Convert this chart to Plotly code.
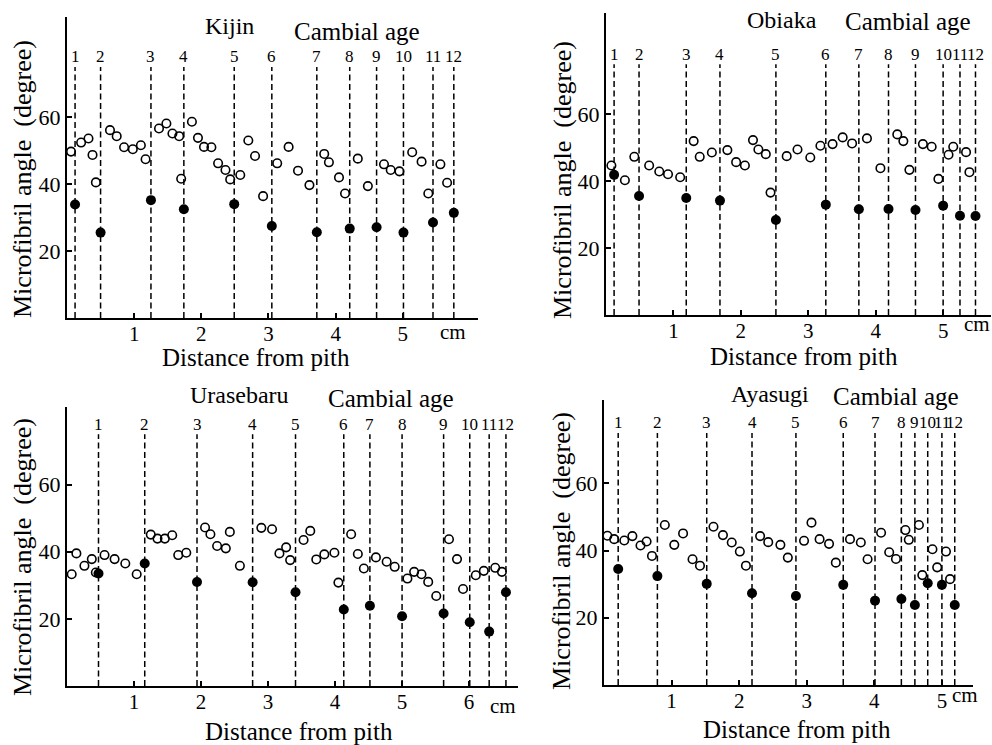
import plotly.graph_objects as go

W, H = 992, 745
cambial_ages = list(range(1, 13))

# ---------------- data ----------------
kijin_ring_x = [0.12, 0.50, 1.25, 1.74, 2.49, 3.05, 3.72, 4.21, 4.61, 5.01, 5.45, 5.76]
kijin_late_y = [33.9, 25.5, 35.2, 32.5, 34.0, 27.5, 25.6, 26.7, 27.1, 25.5, 28.5, 31.4]
kijin_x = [0.06, 0.21, 0.32, 0.38, 0.43, 0.64, 0.74, 0.85, 0.98, 1.10, 1.17, 1.37, 1.48, 1.57, 1.67,
           1.70, 1.86, 1.95, 2.04, 2.15, 2.25, 2.36, 2.43, 2.58, 2.70, 2.80, 2.92, 3.13, 3.30, 3.44,
           3.61, 3.83, 3.90, 4.05, 4.14, 4.33, 4.48, 4.72, 4.82, 4.95, 5.14, 5.28, 5.38, 5.56, 5.66]
kijin_y = [49.7, 52.4, 53.6, 48.7, 40.5, 56.1, 54.3, 51.0, 50.4, 51.6, 47.4, 56.6, 58.1, 55.1, 54.3,
           41.6, 58.6, 53.8, 51.1, 51.0, 46.2, 44.2, 41.4, 42.7, 53.0, 48.4, 36.4, 46.2, 51.1, 44.0,
           39.7, 49.0, 46.5, 42.0, 37.2, 47.6, 39.4, 45.9, 44.2, 43.8, 49.5, 46.7, 37.2, 45.9, 40.4]

obiaka_ring_x = [0.12, 0.49, 1.19, 1.69, 2.52, 3.26, 3.75, 4.19, 4.59, 5.00, 5.25, 5.48]
obiaka_late_y = [41.9, 35.6, 35.0, 34.2, 28.4, 33.0, 31.6, 31.7, 31.4, 32.7, 29.7, 29.6]
obiaka_x = [0.08, 0.28, 0.42, 0.64, 0.79, 0.92, 1.10, 1.30, 1.39, 1.57, 1.80, 1.93, 2.06, 2.18, 2.26,
            2.37, 2.44, 2.68, 2.84, 3.03, 3.18, 3.36, 3.51, 3.65, 3.87, 4.07, 4.32, 4.41, 4.50, 4.70,
            4.83, 4.93, 5.08, 5.15, 5.34, 5.39]
obiaka_y = [44.7, 40.3, 47.3, 44.7, 42.9, 42.1, 41.2, 52.0, 47.3, 48.6, 49.3, 45.7, 44.7, 52.3, 49.5,
            48.1, 36.6, 47.5, 49.5, 47.1, 50.6, 51.1, 53.1, 51.3, 52.8, 43.9, 54.0, 52.0, 43.4, 51.1,
            50.3, 40.7, 47.9, 50.3, 48.7, 42.7]

urasebaru_ring_x = [0.47, 1.16, 1.94, 2.77, 3.41, 4.13, 4.52, 5.00, 5.62, 6.01, 6.30, 6.55]
urasebaru_late_y = [33.5, 36.5, 31.0, 30.9, 27.9, 22.8, 23.9, 20.8, 21.6, 19.0, 16.2, 27.9]
urasebaru_x = [0.07, 0.14, 0.26, 0.37, 0.43, 0.56, 0.71, 0.87, 1.04, 1.25, 1.35, 1.46, 1.57, 1.66, 1.78,
               2.06, 2.14, 2.24, 2.37, 2.43, 2.58, 2.90, 3.06, 3.17, 3.27, 3.33, 3.53, 3.63, 3.72, 3.84,
               3.99, 4.05, 4.24, 4.34, 4.43, 4.61, 4.77, 4.89, 5.08, 5.18, 5.29, 5.39, 5.51, 5.70, 5.82,
               5.91, 6.10, 6.22, 6.39, 6.49]
urasebaru_y = [33.3, 39.5, 35.8, 37.8, 33.8, 39.0, 37.8, 36.5, 33.3, 45.1, 43.9, 43.9, 44.9, 39.0, 39.7,
               47.2, 45.2, 41.7, 41.0, 45.9, 35.8, 47.1, 46.7, 39.5, 41.3, 37.5, 43.5, 46.2, 37.7, 39.2,
               39.7, 30.8, 45.2, 39.3, 35.0, 38.3, 37.0, 35.5, 32.0, 34.0, 33.3, 31.0, 26.8, 43.7, 37.8,
               28.9, 33.0, 34.3, 35.2, 34.0]

ayasugi_ring_x = [0.21, 0.79, 1.52, 2.19, 2.84, 3.54, 4.01, 4.40, 4.60, 4.79, 5.00, 5.19]
ayasugi_late_y = [34.5, 32.4, 30.1, 27.3, 26.5, 29.8, 25.1, 25.6, 23.8, 30.3, 29.8, 23.8]
ayasugi_x = [0.05, 0.15, 0.30, 0.42, 0.54, 0.63, 0.71, 0.90, 1.04, 1.17, 1.31, 1.42, 1.62, 1.76, 1.89,
             2.01, 2.10, 2.31, 2.43, 2.61, 2.72, 2.96, 3.07, 3.19, 3.33, 3.43, 3.64, 3.80, 3.90, 4.10,
             4.22, 4.32, 4.46, 4.51, 4.66, 4.71, 4.86, 4.93, 5.06, 5.12]
ayasugi_y = [44.4, 43.4, 43.0, 44.3, 41.5, 42.7, 38.4, 47.6, 41.7, 45.1, 37.4, 35.5, 47.1, 44.6, 42.4,
             39.7, 35.5, 44.3, 42.5, 41.7, 37.9, 42.9, 48.3, 43.4, 42.0, 36.4, 43.4, 42.4, 37.4, 45.3,
             39.5, 37.5, 46.1, 43.2, 47.6, 32.7, 40.4, 35.0, 39.7, 31.5]

y_tick_vals = [20, 40, 60]

# ---------------- layout of panels (pixels) ----------------
panels = [
    dict(name="Kijin", ring=kijin_ring_x, late=kijin_late_y, ox=kijin_x, oy=kijin_y,
         px=(67, 478), py=(17, 318), xr=6.12, yr=89.9, xt=[1, 2, 3, 4, 5],
         title=(229, 26), camb=(357, 31), cm=(453, 332), xtitle=(256, 357), ytitle=(22, 179)),
    dict(name="Obiaka", ring=obiaka_ring_x, late=obiaka_late_y, ox=obiaka_x, oy=obiaka_y,
         px=(606, 991), py=(13, 315), xr=5.71, yr=90.3, xt=[1, 2, 3, 4, 5],
         title=(782, 20), camb=(908, 21), cm=(977, 324), xtitle=(804, 356), ytitle=(562, 180)),
    dict(name="Urasebaru", ring=urasebaru_ring_x, late=urasebaru_late_y, ox=urasebaru_x, oy=urasebaru_y,
         px=(67, 518), py=(407, 686), xr=6.73, yr=83.1, xt=[1, 2, 3, 4, 5, 6],
         title=(239, 395), camb=(391, 398), cm=(503, 706), xtitle=(299, 731), ytitle=(22, 557)),
    dict(name="Ayasugi", ring=ayasugi_ring_x, late=ayasugi_late_y, ox=ayasugi_x, oy=ayasugi_y,
         px=(604, 973), py=(400, 685), xr=5.46, yr=84.8, xt=[1, 2, 3, 4, 5],
         title=(770, 394), camb=(896, 396), cm=(965, 695), xtitle=(797, 729), ytitle=(561, 551)),
]

SERIF = "Liberation Serif"
fig = go.Figure()
annotations = []
layout_axes = {}


def fx(p):
    return p / W


def fy(p):
    return 1 - p / H


for i, pn in enumerate(panels):
    k = "" if i == 0 else str(i + 1)
    xa, ya = "x" + k, "y" + k
    # dashed cambial age lines
    lx, ly = [], []
    for r in pn["ring"]:
        lx += [r, r, None]
        ly += [0, 75, None]
    fig.add_trace(go.Scatter(x=lx, y=ly, mode="lines", xaxis=xa, yaxis=ya,
                             line=dict(color="black", width=1.5, dash="6px,3.5px"),
                             hoverinfo="skip", showlegend=False))
    fig.add_trace(go.Scatter(x=pn["ox"], y=pn["oy"], mode="markers", xaxis=xa, yaxis=ya,
                             marker=dict(symbol="circle-open", size=8.5, color="black",
                                         line=dict(width=1.6, color="black")),
                             cliponaxis=False, showlegend=False))
    fig.add_trace(go.Scatter(x=pn["ring"], y=pn["late"], mode="markers", xaxis=xa, yaxis=ya,
                             marker=dict(symbol="circle", size=10, color="black"),
                             cliponaxis=False, showlegend=False))
    layout_axes["xaxis" + k] = dict(
        domain=[fx(pn["px"][0]), fx(pn["px"][1])], range=[0, pn["xr"]], anchor=ya,
        showline=True, linecolor="black", linewidth=2, showgrid=False, zeroline=False,
        ticks="inside", ticklen=5, tickwidth=1.5, tickcolor="black", ticklabelstandoff=-4,
        tickvals=pn["xt"], ticktext=[str(v) for v in pn["xt"]],
        tickfont=dict(family=SERIF, size=21, color="black"))
    layout_axes["yaxis" + k] = dict(
        domain=[fy(pn["py"][1]), fy(pn["py"][0])], range=[0, pn["yr"]], anchor=xa,
        showline=True, linecolor="black", linewidth=2, showgrid=False, zeroline=False,
        ticks="inside", ticklen=5, tickwidth=1.5, tickcolor="black",
        tickvals=y_tick_vals, ticktext=[str(v) for v in y_tick_vals],
        tickfont=dict(family=SERIF, size=22, color="black"))
    # cambial age labels
    for r, a in zip(pn["ring"], cambial_ages):
        annotations.append(dict(x=r, y=78.0, xref=xa, yref=ya, text=str(a), showarrow=False,
                                xanchor="center", yanchor="middle",
                                font=dict(family=SERIF, size=17, color="black")))
    # titles
    annotations.append(dict(x=fx(pn["title"][0]), y=fy(pn["title"][1]), xref="paper", yref="paper",
                            text=pn["name"], showarrow=False, xanchor="center", yanchor="middle",
                            font=dict(family=SERIF, size=24, color="black")))
    annotations.append(dict(x=fx(pn["camb"][0]), y=fy(pn["camb"][1]), xref="paper", yref="paper",
                            text="Cambial age", showarrow=False, xanchor="center", yanchor="middle",
                            font=dict(family=SERIF, size=25, color="black")))
    annotations.append(dict(x=fx(pn["cm"][0]), y=fy(pn["cm"][1]), xref="paper", yref="paper",
                            text="cm", showarrow=False, xanchor="center", yanchor="middle",
                            font=dict(family=SERIF, size=21, color="black")))
    annotations.append(dict(x=fx(pn["xtitle"][0]), y=fy(pn["xtitle"][1]), xref="paper", yref="paper",
                            text="Distance from pith", showarrow=False, xanchor="center", yanchor="middle",
                            font=dict(family=SERIF, size=25, color="black")))
    annotations.append(dict(x=fx(pn["ytitle"][0]), y=fy(pn["ytitle"][1]), xref="paper", yref="paper",
                            text="Microfibril angle\u00a0\u00a0(degree)", showarrow=False, textangle=-90,
                            xanchor="center", yanchor="middle",
                            font=dict(family=SERIF, size=26, color="black")))

fig.update_layout(width=W, height=H, margin=dict(l=0, r=0, t=0, b=0),
                  paper_bgcolor="white", plot_bgcolor="white",
                  showlegend=False, annotations=annotations, **layout_axes)

fig.write_html("out.html")
